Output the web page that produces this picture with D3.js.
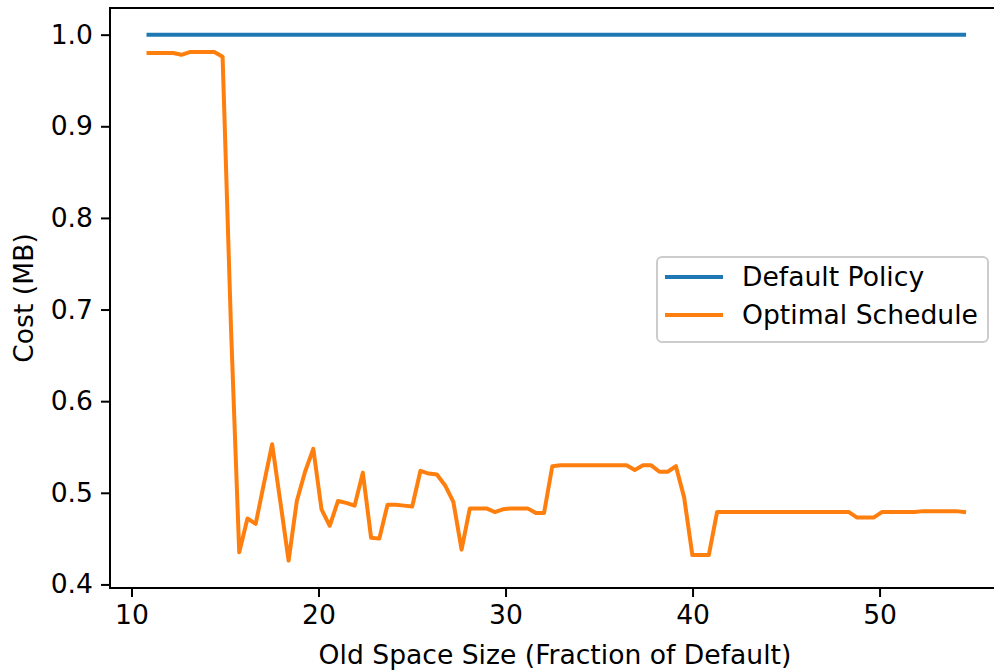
<!DOCTYPE html>
<html>
<head>
<meta charset="utf-8">
<script src="https://cdn.jsdelivr.net/npm/d3@7"></script>
<style>
  html, body { margin: 0; padding: 0; background: #fff; }
  svg { display: block; }
  text { font-family: "DejaVu Sans", sans-serif; fill: #000; }
</style>
</head>
<body>
<svg id="chart" width="994" height="672"></svg>
<script>
const xValues = [10.91,11.35,11.79,12.23,12.67,13.11,13.55,13.99,14.43,14.87,
  15.32,15.76,16.20,16.64,17.08,17.52,17.96,18.40,18.84,19.28,
  19.72,20.16,20.60,21.04,21.48,21.93,22.37,22.81,23.25,23.69,
  24.13,24.57,25.01,25.45,25.89,26.33,26.77,27.21,27.65,28.09,
  28.53,28.98,29.42,29.86,30.30,30.74,31.18,31.62,32.06,32.50,
  32.94,33.38,33.82,34.26,34.70,35.14,35.58,36.02,36.47,36.91,
  37.35,37.79,38.23,38.67,39.11,39.55,39.99,40.43,40.87,41.31,
  41.75,42.19,42.63,43.07,43.52,43.96,44.40,44.84,45.28,45.72,
  46.16,46.60,47.04,47.48,47.92,48.36,48.80,49.24,49.68,50.12,
  50.56,51.00,51.44,51.88,52.32,52.76,53.20,53.64,54.08,54.52];

const defaultPolicy = xValues.map(() => 1.0);

const optimalSchedule = [0.980,0.980,0.980,0.980,0.978,0.981,0.981,0.981,0.981,0.976,
  0.680,0.435,0.472,0.466,0.510,0.553,0.490,0.426,0.491,0.523,
  0.548,0.482,0.464,0.491,0.489,0.486,0.522,0.451,0.450,0.487,
  0.487,0.486,0.485,0.524,0.521,0.520,0.508,0.490,0.438,0.483,
  0.483,0.483,0.479,0.482,0.483,0.483,0.483,0.478,0.478,0.529,
  0.530,0.530,0.530,0.530,0.530,0.530,0.530,0.530,0.530,0.525,
  0.530,0.530,0.523,0.523,0.529,0.495,0.432,0.432,0.432,0.479,
  0.479,0.479,0.479,0.479,0.479,0.479,0.479,0.479,0.479,0.479,
  0.479,0.479,0.479,0.479,0.479,0.479,0.473,0.473,0.473,0.479,
  0.479,0.479,0.479,0.479,0.480,0.480,0.480,0.480,0.480,0.479];

const xTicks = [10, 20, 30, 40, 50];
const yTicks = [0.4, 0.5, 0.6, 0.7, 0.8, 0.9, 1.0];
const seriesNames = ["Default Policy", "Optimal Schedule"];
const seriesColors = ["#1f77b4", "#ff7f0e"];
const xLabel = "Old Space Size (Fraction of Default)";
const yLabel = "Cost (MB)";

(function draw() {
  const svg = d3.select("#chart");
  const mLeft = 110, mRight = 1003, mTop = 8, mBottom = 588;
  const FS = 26.6;

  const x = d3.scaleLinear().domain([8.85, 56.6]).range([mLeft, mRight]);
  const y = d3.scaleLinear().domain([0.3961, 1.0291]).range([mBottom, mTop]);

  const line = d3.line().x((d, i) => x(xValues[i])).y(d => y(d));

  const series = [defaultPolicy, optimalSchedule];
  series.forEach((s, k) => {
    svg.append("path")
      .datum(s)
      .attr("d", line)
      .attr("fill", "none")
      .attr("stroke", seriesColors[k])
      .attr("stroke-width", 4)
      .attr("stroke-linejoin", "round")
      .attr("stroke-linecap", "square");
  });

  const xAxis = d3.axisBottom(x).tickValues(xTicks).tickFormat(d3.format("d"))
    .tickSize(9).tickPadding(8).tickSizeOuter(0);
  const gx = svg.append("g").attr("transform", `translate(0,${mBottom})`).call(xAxis);
  const yAxis = d3.axisLeft(y).tickValues(yTicks).tickFormat(d3.format(".1f"))
    .tickSize(9).tickPadding(8).tickSizeOuter(0);
  const gy = svg.append("g").attr("transform", `translate(${mLeft},0)`).call(yAxis);

  [gx, gy].forEach(g => {
    g.select(".domain").remove();
    g.selectAll(".tick line").attr("stroke", "#000").attr("stroke-width", 2);
    g.selectAll(".tick text").attr("font-size", FS).attr("font-family", "DejaVu Sans");
  });

  const spine = (x1, y1, x2, y2) => svg.append("line")
    .attr("x1", x1).attr("y1", y1).attr("x2", x2).attr("y2", y2)
    .attr("stroke", "#000").attr("stroke-width", 2).attr("stroke-linecap", "square");
  spine(mLeft, mTop, mLeft, mBottom);
  spine(mLeft, mBottom, mRight, mBottom);
  spine(mLeft, mTop, mRight, mTop);
  spine(mRight, mTop, mRight, mBottom);

  svg.append("text").attr("x", 555).attr("y", 664)
    .attr("text-anchor", "middle").attr("font-size", FS).text(xLabel);
  svg.append("text").attr("transform", `translate(33,${(mTop + mBottom) / 2}) rotate(-90)`)
    .attr("text-anchor", "middle").attr("font-size", FS).text(yLabel);

  const lg = svg.append("g");
  lg.append("rect").attr("x", 657).attr("y", 257).attr("width", 331).attr("height", 85)
    .attr("rx", 5).attr("fill", "#fff").attr("fill-opacity", 0.8)
    .attr("stroke", "#cccccc").attr("stroke-width", 2);
  seriesNames.forEach((name, k) => {
    const ly = 277 + k * 38;
    lg.append("line").attr("x1", 665).attr("x2", 723).attr("y1", ly).attr("y2", ly)
      .attr("stroke", seriesColors[k]).attr("stroke-width", 4);
    lg.append("text").attr("x", 742).attr("y", ly + 9).attr("font-size", FS).text(name);
  });
})();
</script>
</body>
</html>
